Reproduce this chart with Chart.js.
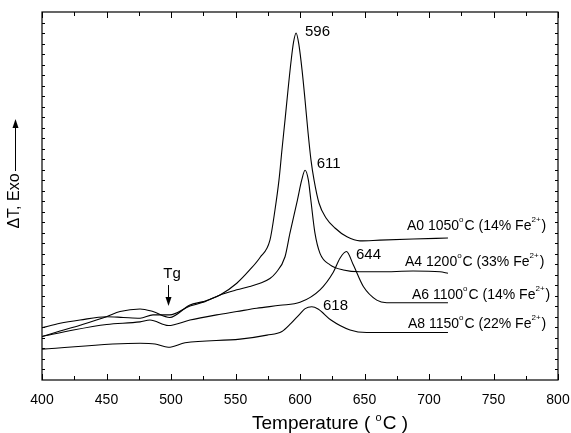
<!DOCTYPE html>
<html>
<head>
<meta charset="utf-8">
<script src="https://cdn.jsdelivr.net/npm/chart.js@4.4.1/dist/chart.umd.min.js"></script>
<style>
  html, body { margin: 0; padding: 0; background: #fff; }
  #wrap { width: 571px; height: 433px; }
</style>
</head>
<body>
<div id="wrap"><canvas id="dta" width="571" height="433"></canvas></div>
<script>
// DTA-Kurven (Temperatur in °C, Signal in willkürlichen Einheiten)
const a0Temp = [400, 414, 429.5, 450, 460.5, 476, 486, 499, 514.7, 525, 538, 551, 561, 569, 576.7, 580.6, 583.7, 586, 588.4, 590.7, 593, 595, 597, 599.2, 601.6, 603.9, 606.2, 608.5, 610.9, 614.7, 620.2, 627.1, 636.4, 646.5, 662, 687.6, 714.7];
const a0Signal = [11.8, 13.3, 14.9, 17.2, 18.6, 19.3, 18.6, 17.0, 20.4, 21.3, 23.1, 26.3, 29.9, 33.3, 38.0, 46.2, 54.3, 62.5, 70.7, 78.8, 86.4, 91.8, 94.3, 91.0, 84.2, 76.1, 67.4, 59.8, 54.3, 48.1, 44.0, 41.3, 38.9, 37.8, 38.0, 38.3, 38.6];

const a4Temp = [400, 414, 429.5, 450, 463, 476, 486, 499, 514.7, 525, 538, 551, 561, 569, 576.7, 581, 588.4, 592.2, 598, 601.3, 603.9, 606.5, 608.4, 611.6, 615.5, 623.3, 633.6, 646.5, 662, 687.6, 708.5, 714.7];
const a4Signal = [14.2, 15.4, 16.3, 17.2, 17.0, 16.8, 17.7, 17.7, 20.1, 21.1, 23.1, 24.5, 25.4, 26.3, 27.6, 29.0, 33.5, 39.9, 48.9, 54.3, 57.0, 54.3, 48.9, 39.9, 34.4, 31.3, 29.9, 29.4, 29.4, 29.6, 29.4, 29.0];

const a6Temp = [400, 424.3, 450.2, 476, 483.7, 497.9, 514.7, 535.4, 551, 566.4, 584.5, 600, 615.5, 625.8, 631, 636, 641.3, 649.1, 659.5, 667.2, 714.7];
const a6Signal = [11.8, 13.6, 15.1, 15.8, 16.3, 14.8, 16.3, 17.7, 18.6, 19.5, 20.3, 21.1, 24.5, 29.3, 33.1, 34.9, 31.3, 25.4, 21.7, 21.0, 21.0];

const a8Temp = [400, 476, 487.6, 497.9, 510.9, 553.5, 574.4, 586, 593, 600, 604, 609.1, 614, 624, 638.8, 651.7, 714.7];
const a8Signal = [8.4, 10.0, 9.8, 8.9, 10.1, 11.1, 12.2, 13.2, 15.4, 18.0, 19.4, 19.9, 19.3, 16.3, 13.6, 12.9, 12.9];

const xTicks = [400, 450, 500, 550, 600, 650, 700, 750, 800];

// Beschriftungen: Peak-Temperaturen und Proben
const peakLabels = ['596', '611', '644', '618'];
const peakAt = [[603.9, 94.6], [612.9, 58.7], [643.4, 34.0], [617.8, 20.1]];
const sampleNames = ['A0 1050', 'A4 1200', 'A6 1100', 'A8 1150'];
const sampleFe = ['14', '33', '14', '22'];
const sampleAt = [[682.9, 41.8], [681.4, 32.1], [686.8, 23.1], [683.7, 15.2]];

const FONT = '"Liberation Sans", Arial, sans-serif';

function toPoints(t, v) {
    return t.map((x, i) => ({ x: x, y: v[i] }));
}

// Text mit hochgestellten Teilen zeichnen: parts = [[text, sup], ...]
function drawRich(ctx, parts, x, y, size) {
    let cx = x;
    parts.forEach(([txt, sup]) => {
        const s = sup ? Math.round(size * 0.6) : size;
        ctx.font = s + 'px ' + FONT;
        ctx.fillText(txt, cx, sup ? y - size * 0.42 : y);
        cx += ctx.measureText(txt).width + (sup ? 1 : 0);
    });
}

const decor = {
    id: 'decor',
    afterDraw(chart) {
        const ctx = chart.ctx;
        const { left, right, top, bottom } = chart.chartArea;
        const xs = chart.scales.x;
        const ys = chart.scales.y;
        ctx.save();
        ctx.strokeStyle = '#000';
        ctx.fillStyle = '#000';
        ctx.lineWidth = 1.2;
        ctx.strokeRect(left, top, right - left, bottom - top);

        // Ticks nach innen
        ctx.lineWidth = 1;
        ctx.beginPath();
        for (let v = 400; v <= 800; v += 25) {
            const px = Math.round(xs.getPixelForValue(v)) + 0.5;
            const len = v % 50 === 0 ? 6 : 4;
            ctx.moveTo(px, bottom); ctx.lineTo(px, bottom - len);
            ctx.moveTo(px, top); ctx.lineTo(px, top + len);
        }
        for (let i = 1; i < 35; i++) {
            const py = Math.round(ys.getPixelForValue(i * 100 / 35)) + 0.5;
            ctx.moveTo(left, py); ctx.lineTo(left + 3, py);
            ctx.moveTo(right, py); ctx.lineTo(right - 3, py);
        }
        ctx.stroke();

        // Peak-Werte
        ctx.textBaseline = 'middle';
        ctx.textAlign = 'left';
        ctx.font = '15px ' + FONT;
        peakLabels.forEach((lab, i) => {
            ctx.fillText(lab, xs.getPixelForValue(peakAt[i][0]), ys.getPixelForValue(peakAt[i][1]));
        });

        // Tg mit Pfeil
        ctx.textAlign = 'center';
        ctx.font = '15px ' + FONT;
        ctx.fillText('Tg', xs.getPixelForValue(500.8), ys.getPixelForValue(28.8));
        const ax = Math.round(xs.getPixelForValue(497.7)) + 0.5;
        const ay1 = ys.getPixelForValue(25.8), ay2 = ys.getPixelForValue(20.1);
        ctx.beginPath();
        ctx.moveTo(ax, ay1); ctx.lineTo(ax, ay2 - 6);
        ctx.stroke();
        ctx.beginPath();
        ctx.moveTo(ax, ay2); ctx.lineTo(ax - 3, ay2 - 9); ctx.lineTo(ax + 3, ay2 - 9);
        ctx.closePath(); ctx.fill();

        // Probenbezeichnungen
        ctx.textAlign = 'left';
        ctx.textBaseline = 'middle';
        sampleNames.forEach((name, i) => {
            drawRich(ctx, [[name, false], ['o', true], ['C (' + sampleFe[i] + '% Fe', false], ['2+', true], [')', false]],
                xs.getPixelForValue(sampleAt[i][0]), ys.getPixelForValue(sampleAt[i][1]), 14);
        });

        // x-Achsentitel
        ctx.textBaseline = 'alphabetic';
        drawRich(ctx, [['Temperature ( ', false], ['o', true], ['C )', false]], 252, 429, 19);

        // y-Achsentitel mit Pfeil
        ctx.save();
        ctx.translate(15, 201);
        ctx.rotate(-Math.PI / 2);
        ctx.textAlign = 'center';
        ctx.textBaseline = 'middle';
        ctx.font = '16px ' + FONT;
        ctx.fillText('\u0394T, Exo', 0, 0);
        ctx.restore();
        ctx.beginPath();
        ctx.moveTo(15.5, 171); ctx.lineTo(15.5, 126);
        ctx.stroke();
        ctx.beginPath();
        ctx.moveTo(15.5, 119); ctx.lineTo(12.5, 128); ctx.lineTo(18.5, 128);
        ctx.closePath(); ctx.fill();
        ctx.restore();
    }
};

const lineStyle = {
    borderColor: '#000',
    borderWidth: 1.1,
    pointRadius: 0,
    fill: false,
    cubicInterpolationMode: 'monotone'
};

const chart = new Chart(document.getElementById('dta').getContext('2d'), {
    type: 'line',
    data: {
        datasets: [
            { label: 'A0', data: toPoints(a0Temp, a0Signal), ...lineStyle },
            { label: 'A4', data: toPoints(a4Temp, a4Signal), ...lineStyle },
            { label: 'A6', data: toPoints(a6Temp, a6Signal), ...lineStyle },
            { label: 'A8', data: toPoints(a8Temp, a8Signal), ...lineStyle }
        ]
    },
    options: {
        responsive: false,
        animation: false,
        devicePixelRatio: 1,
        layout: { padding: { left: 42, right: 13, top: 12, bottom: 0 } },
        plugins: {
            legend: { display: false },
            tooltip: { enabled: false }
        },
        scales: {
            x: {
                type: 'linear',
                min: 400,
                max: 800,
                afterFit: s => { s.height = 53; s.paddingLeft = 0; s.paddingRight = 0; },
                afterBuildTicks: s => { s.ticks = xTicks.map(v => ({ value: v })); },
                grid: { display: false, drawTicks: false },
                border: { display: false },
                ticks: {
                    padding: 12,
                    color: '#000',
                    font: { family: FONT, size: 14 }
                }
            },
            y: {
                type: 'linear',
                min: 0,
                max: 100,
                display: false
            }
        }
    },
    plugins: [decor]
});
</script>
</body>
</html>
